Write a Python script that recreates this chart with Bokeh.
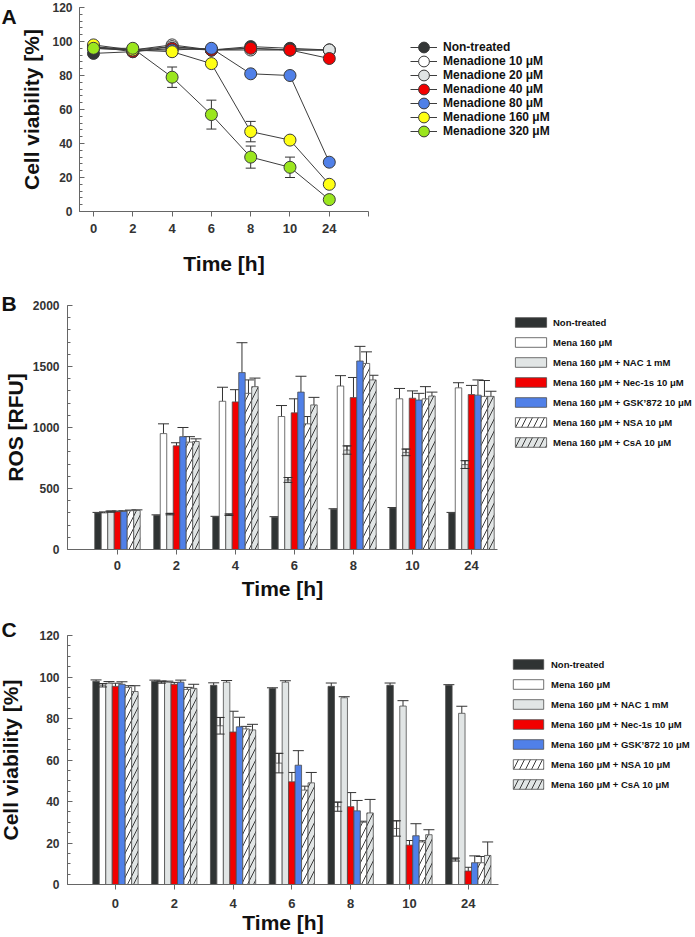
from bokeh.plotting import figure
from bokeh.models import (Range1d, FixedTicker, SingleIntervalTicker, Legend, LegendItem,
                          Whisker, TeeHead, ColumnDataSource, Label)
from bokeh.layouts import column
from bokeh.embed import file_html
from bokeh.resources import INLINE

FONT = "Liberation Sans"
MU = "\u03bc"

times = ["0", "2", "4", "6", "8", "10", "24"]

# ---------------- Panel A: cell viability (%) for menadione doses ----------------
a_labels = ["Non-treated", f"Menadione 10 {MU}M", f"Menadione 20 {MU}M", f"Menadione 40 {MU}M",
            f"Menadione 80 {MU}M", f"Menadione 160 {MU}M", f"Menadione 320 {MU}M"]
a_nontreated = [93, 94, 97, 95, 97, 96, 95]
a_m10 = [97, 95, 98, 95, 96, 95, 95]
a_m20 = [96, 95, 97, 95, 95, 95, 95]
a_m40 = [97, 94, 96, 95, 96, 95, 90]
a_m80 = [96, 95, 95, 96, 81, 80, 29]
a_m160 = [98, 95, 94, 87, 47, 42, 16]
a_m320 = [96, 96, 79, 57, 32, 26, 7]
a_err_nontreated = [1, 1, 1, 1, 1, 1, 1]
a_err_m10 = [1, 1, 1, 1, 1, 1, 1]
a_err_m20 = [1, 1, 1, 1, 1, 1, 1]
a_err_m40 = [1, 1, 1, 1, 1, 1, 1.5]
a_err_m80 = [1, 1, 1, 1, 1.5, 1.5, 1.5]
a_err_m160 = [1, 1, 1, 1.5, 6, 1.5, 1.5]
a_err_m320 = [1, 1, 6, 8.5, 6.5, 6, 1]
a_colors = ["#333636", "#ffffff", "#e0e4e4", "#f20000", "#5080e8", "#ffff14", "#9be61e"]

# ---------------- Panels B & C: treatments ----------------
bc_labels = ["Non-treated", f"Mena 160 {MU}M", f"Mena 160 {MU}M + NAC 1 mM",
             f"Mena 160 {MU}M + Nec-1s 10 {MU}M", f"Mena 160 {MU}M + GSK\u2019872 10 {MU}M",
             f"Mena 160 {MU}M + NSA 10 {MU}M", f"Mena 160 {MU}M + CsA 10 {MU}M"]
bc_fill = ["#2f3333", "#ffffff", "#e1e5e5", "#f20000", "#5080e8", "#ffffff", "#e1e5e5"]
bc_hatch = [None, None, None, None, None, "/", "/"]

# Panel B: ROS [RFU]
b_nontreated = [300, 280, 268, 265, 330, 340, 300]
b_mena = [300, 950, 1215, 1090, 1340, 1235, 1325]
b_nac = [310, 290, 285, 570, 815, 796, 696]
b_nec = [310, 850, 1210, 1120, 1245, 1240, 1270]
b_gsk = [312, 925, 1450, 1290, 1545, 1225, 1265]
b_nsa = [318, 880, 1280, 1030, 1525, 1235, 1255]
b_csa = [320, 885, 1335, 1185, 1390, 1258, 1255]
b_err_nontreated = [4, 4, 4, 4, 4, 4, 4]
b_err_mena = [8, 80, 115, 90, 85, 85, 42]
b_err_nac = [5, 6, 6, 20, 34, 27, 32]
b_err_nec = [5, 25, 100, 115, 165, 60, 75]
b_err_gsk = [5, 75, 245, 130, 120, 55, 125]
b_err_nsa = [5, 45, 110, 60, 95, 100, 130]
b_err_csa = [5, 22, 70, 62, 38, 32, 42]

# Panel C: cell viability [%]
c_nontreated = [98, 98, 96, 94.5, 95.5, 96, 96]
c_mena = [96, 97.5, 76.5, 58.5, 37.5, 27, 12]
c_nac = [97, 97.5, 97.5, 97.5, 90, 86, 82.5]
c_nec = [95.5, 96.5, 73.5, 49.5, 37.5, 19, 6.5]
c_gsk = [96.5, 97.5, 76, 57.5, 35.5, 23.5, 10.5]
c_nsa = [95, 94, 75, 45.5, 30, 20.5, 10.5]
c_csa = [93, 94.5, 74.5, 49, 34.5, 24, 14]
c_err_nontreated = [0.6, 0.5, 1.2, 0.3, 1.6, 1.1, 0.3]
c_err_mena = [0.8, 0.5, 4, 4.7, 2.2, 3.7, 0.7]
c_err_nac = [0.8, 0.5, 0.8, 0.7, 0.5, 2.6, 3.4]
c_err_nec = [1.5, 0.9, 10, 4.5, 6.8, 2.2, 1.8]
c_err_gsk = [1.2, 1, 4.6, 7, 5, 5.8, 3.3]
c_err_nsa = [0.8, 1, 1.2, 1.9, 0.5, 0.6, 3]
c_err_csa = [2.8, 2, 2.7, 5, 6.5, 2.4, 6.5]

BW = 0.11
ERR = "#333333"
AX = "#666666"
W = 695


def new_fig(h, xr, yr):
    p = figure(width=W, height=h, x_range=Range1d(*xr), y_range=Range1d(*yr),
               output_backend="svg", toolbar_location=None,
               min_border_left=0, min_border_right=0, min_border_top=0, min_border_bottom=0)
    p.title.visible = False
    return p


def style_axes(p, xticks, xmap, xbounds, ylabel, ybounds, y_interval, y_minor,
               y_tick_stand, y_label_stand, x_tick_stand, x_label_stand):
    p.outline_line_color = None
    p.xgrid.visible = False
    p.ygrid.visible = False
    p.border_fill_color = None
    xa = p.xaxis[0]
    ya = p.yaxis[0]
    xa.fixed_location = ybounds[0]
    xa.bounds = xbounds
    ya.fixed_location = xbounds[0]
    ya.bounds = ybounds
    xa.ticker = FixedTicker(ticks=xticks, minor_ticks=[])
    xa.major_label_overrides = xmap
    xa.major_tick_in = 0
    xa.major_tick_out = 5
    xa.minor_tick_in = 0
    xa.minor_tick_out = 0
    xa.major_label_standoff = x_tick_stand
    xa.axis_label = "Time [h]"
    xa.axis_label_standoff = x_label_stand
    ya.ticker = SingleIntervalTicker(interval=y_interval, num_minor_ticks=y_minor)
    ya.major_tick_in = 5
    ya.major_tick_out = 0
    ya.minor_tick_in = 3
    ya.minor_tick_out = 0
    ya.major_label_standoff = y_tick_stand
    ya.axis_label = ylabel
    ya.axis_label_standoff = y_label_stand
    for ax in (xa, ya):
        ax.axis_line_color = AX
        ax.major_tick_line_color = AX
        ax.minor_tick_line_color = AX
        ax.major_label_text_font = FONT
        ax.major_label_text_font_style = "bold"
        ax.major_label_text_color = "#333333"
        ax.axis_label_text_font = FONT
        ax.axis_label_text_font_style = "bold"
        ax.axis_label_text_font_size = "21px"
        ax.axis_label_text_color = "#111111"
    xa.major_label_text_font_size = "13px"
    ya.major_label_text_font_size = "12px"


def panel_letter(p, x, y, txt):
    p.add_layout(Label(x=x, y=y, text=txt, text_font=FONT, text_font_style="bold",
                       text_font_size="21px", text_color="#111111",
                       text_align="left", text_baseline="top"))


def make_legend(items, loc, gw, gh, spacing, standoff, fsize):
    return Legend(items=items, location=loc, orientation="vertical",
                  glyph_width=gw, glyph_height=gh, label_height=gh,
                  label_standoff=standoff, spacing=spacing, padding=0, margin=0,
                  border_line_color=None, background_fill_alpha=0,
                  label_text_font=FONT, label_text_font_style="bold",
                  label_text_font_size=fsize, label_text_color="#111111")


# ======================= Panel A =======================
HA = 283
pA = new_fig(HA, (-2.3662, 15.318), (-42.353, 124.118))
style_axes(pA, list(range(8)), {**{i: t for i, t in enumerate(times)}, 7: ""}, (-0.356, 7.0),
           "Cell viability [%]", (0, 120), 20, 5, 7, 6, 7, 16)

a_series = [a_nontreated, a_m10, a_m20, a_m40, a_m80, a_m160, a_m320]
a_errs = [a_err_nontreated, a_err_m10, a_err_m20, a_err_m40, a_err_m80, a_err_m160, a_err_m320]
xA = list(range(len(times)))
for k, (lab, vals, errs, col) in enumerate(zip(a_labels, a_series, a_errs, a_colors)):
    src = ColumnDataSource(dict(x=xA, y=vals,
                                lo=[v - e for v, e in zip(vals, errs)],
                                hi=[v + e for v, e in zip(vals, errs)]))
    pA.add_layout(Whisker(source=src, base="x", lower="lo", upper="hi",
                          line_color=ERR, line_width=1, level="underlay",
                          upper_head=TeeHead(size=10, line_color=ERR, line_width=1),
                          lower_head=TeeHead(size=10, line_color=ERR, line_width=1)))
    ln = pA.line("x", "y", source=src, line_color="#3d3d3d", line_width=1)
    sc = pA.scatter("x", "y", source=src, size=12, fill_color=col,
                    line_color="#3a3a3a", line_width=1)
    # one single-row legend per series so rows can sit 14 px apart with large markers
    row_center = 47 + 14 * k
    pA.add_layout(make_legend([LegendItem(label=lab, renderers=[ln, sc])],
                              (410, HA - (row_center + 14)), 27, 28, 0, 6, "12px"))
panel_letter(pA, -2.341, 121.18, "A")


# ======================= Bar panels =======================
def bar_panel(p, series, errs):
    items = []
    for i, (lab, vals, er, fill, hatch) in enumerate(
            zip(bc_labels, series, errs, bc_fill, bc_hatch)):
        xs = [g + (i - 3) * BW for g in range(len(times))]
        src = ColumnDataSource(dict(x=xs, top=vals,
                                    hi=[v + e for v, e in zip(vals, er)]))
        p.add_layout(Whisker(source=src, base="x", lower="top", upper="hi",
                             line_color=ERR, line_width=1, level="underlay",
                             upper_head=TeeHead(size=11, line_color=ERR, line_width=1),
                             lower_head=None))
        r = p.vbar(x="x", top="top", bottom=0, width=BW, source=src,
                   fill_color=fill, line_color="#4d4d4d", line_width=0.8,
                   hatch_pattern=hatch, hatch_color="#3c3c3c", hatch_scale=12,
                   hatch_weight=1)
        items.append(LegendItem(label=lab, renderers=[r]))
    return items


def ibeam(p, offset_index, vals, errs):
    src = ColumnDataSource(dict(x=[g + (offset_index - 3) * BW for g in range(len(times))],
                                lo=[v - e for v, e in zip(vals, errs)],
                                hi=[v + e for v, e in zip(vals, errs)]))
    p.add_layout(Whisker(source=src, base="x", lower="lo", upper="hi", line_color=ERR,
                         line_width=1, level="annotation",
                         upper_head=TeeHead(size=9, line_color=ERR, line_width=1),
                         lower_head=TeeHead(size=9, line_color=ERR, line_width=1)))


# ======================= Panel B =======================
pB = new_fig(332, (-1.9826, 9.797), (-541.0, 2180.3))
style_axes(pB, list(range(7)), {i: t for i, t in enumerate(times)}, (-0.847, 6.44),
           "ROS [RFU]", (0, 2000), 500, 5, 8, 3, 7, 3)
b_series = [b_nontreated, b_mena, b_nac, b_nec, b_gsk, b_nsa, b_csa]
b_errs = [b_err_nontreated, b_err_mena, b_err_nac, b_err_nec, b_err_gsk, b_err_nsa, b_err_csa]
itemsB = bar_panel(pB, b_series, b_errs)
ibeam(pB, 2, b_nac, b_err_nac)
pB.add_layout(make_legend(itemsB, (511, 167), 39, 12, 8, 3, "9.5px"))
panel_letter(pB, -1.966, 2114.7, "B")

# ======================= Panel C =======================
pC = new_fig(322, (-1.9554, 9.8645), (-25.54, 129.64))
style_axes(pC, list(range(7)), {i: t for i, t in enumerate(times)}, (-0.816, 6.514),
           "Cell viability [%]", (0, 120), 20, 4, 8, 14, 9, 0)
c_series = [c_nontreated, c_mena, c_nac, c_nec, c_gsk, c_nsa, c_csa]
c_errs = [c_err_nontreated, c_err_mena, c_err_nac, c_err_nec, c_err_gsk, c_err_nsa, c_err_csa]
itemsC = bar_panel(pC, c_series, c_errs)
ibeam(pC, 1, c_mena, c_err_mena)
pC.add_layout(make_legend(itemsC, (509, 147), 38, 12, 8, 4, "9.5px"))
panel_letter(pC, -1.938, 128.2, "C")

layout = column(pA, pB, pC, spacing=0)
open("out.html", "w").write(file_html(layout, INLINE))
